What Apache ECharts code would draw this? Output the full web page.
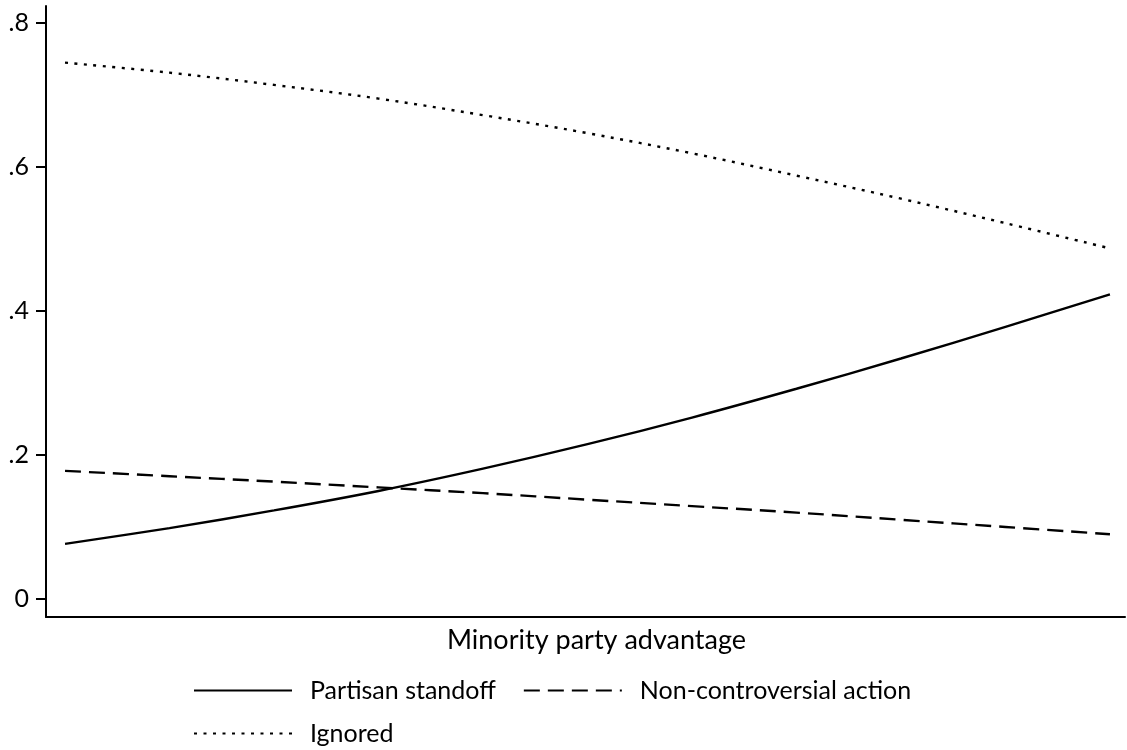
<!DOCTYPE html>
<html>
<head>
<meta charset="utf-8">
<script src="https://cdn.jsdelivr.net/npm/echarts@6/dist/echarts.min.js"></script>
<style>html,body{margin:0;padding:0;background:#fff;}#chart{width:1127px;height:750px;}</style>
</head>
<body>
<div id="chart"></div>
<script>
// Minority party advantage (arbitrary units, no tick labels shown)
const advantage = [0, 1, 2, 3, 4, 5, 6, 7, 8, 9, 10];
const partisanStandoff = [0.0765, 0.0985, 0.123, 0.150, 0.181, 0.215, 0.252, 0.292, 0.334, 0.378, 0.423];
const nonControversial = [0.178, 0.1705, 0.163, 0.155, 0.147, 0.138, 0.129, 0.120, 0.110, 0.100, 0.090];
const ignored = [0.745, 0.731, 0.714, 0.695, 0.672, 0.647, 0.619, 0.588, 0.556, 0.522, 0.487];
const yTicks = [0, 0.2, 0.4, 0.6, 0.8];
const yTickLabels = ['0', '.2', '.4', '.6', '.8'];
const seriesNames = ['Partisan standoff', 'Non-controversial action', 'Ignored'];

const FONT = 'Lato';
const pair = (ys) => advantage.map((x, i) => [x, ys[i]]);
const lineSeries = (name, ys, type) => ({
  name, type: 'line', data: pair(ys), smooth: 0.35, symbol: 'none', silent: true,
  itemStyle: { color: '#000' },
  lineStyle: { color: '#000', width: 2.4, type }
});

const legendCommon = {
  orient: 'horizontal', padding: 0, itemWidth: 98, itemHeight: 14,
  itemStyle: { opacity: 0 },
  textStyle: { fontFamily: FONT, fontSize: 25, color: '#000', padding: [0, 0, 0, 13] },
  selectedMode: false
};

const chart = echarts.init(document.getElementById('chart'), null, { renderer: 'canvas' });
chart.setOption({
  animation: false,
  backgroundColor: '#fff',
  textStyle: { fontFamily: FONT },
  grid: { left: 46, right: 2, top: 6, bottom: 133, containLabel: false },
  xAxis: {
    type: 'value', min: -0.182, max: 10.144,
    name: 'Minority party advantage', nameLocation: 'middle', nameGap: 10,
    nameTextStyle: { fontFamily: FONT, fontSize: 27, color: '#000', padding: [0, 0, 0, 22] },
    axisLine: { show: true, onZero: false, lineStyle: { color: '#000', width: 2 } },
    axisTick: { show: false }, axisLabel: { show: false }, splitLine: { show: false }
  },
  yAxis: {
    type: 'value', min: -0.025, max: 0.8236,
    axisLine: { show: true, onZero: false, lineStyle: { color: '#000', width: 2 } },
    axisTick: { show: true, length: 10, customValues: yTicks, lineStyle: { color: '#000', width: 2 } },
    axisLabel: {
      show: true, customValues: yTicks, margin: 17, color: '#000', fontFamily: FONT, fontSize: 25,
      formatter: (v) => { const i = yTicks.findIndex(t => Math.abs(t - v) < 1e-9); return i >= 0 ? yTickLabels[i] : ''; }
    },
    splitLine: { show: false }
  },
  legend: [
    Object.assign({}, legendCommon, { data: [seriesNames[0], seriesNames[1]], left: 193, top: 678, itemGap: 27 }),
    Object.assign({}, legendCommon, { data: [seriesNames[2]], left: 193, top: 721 })
  ],
  series: [
    lineSeries(seriesNames[0], partisanStandoff, 'solid'),
    lineSeries(seriesNames[1], nonControversial, [16, 8]),
    lineSeries(seriesNames[2], ignored, [3, 6.5])
  ]
});
</script>
</body>
</html>
